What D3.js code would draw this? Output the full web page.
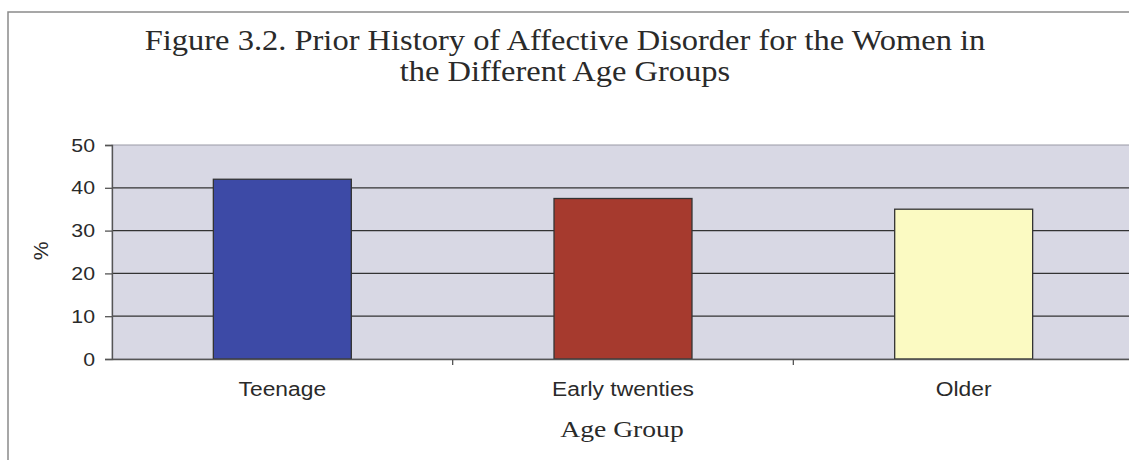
<!DOCTYPE html>
<html><head><meta charset="utf-8">
<script src="https://cdn.jsdelivr.net/npm/d3@7"></script>
<style>body{margin:0;background:#fff;}svg{display:block;}</style>
</head><body>
<script>
const categories = ["Teenage", "Early twenties", "Older"];
const values = [42, 37.5, 35];
const barColors = ["#3d4aa6", "#a63a2e", "#fbfac2"];
const yTicks = [0, 10, 20, 30, 40, 50];
const titleLines = ["Figure 3.2. Prior History of Affective Disorder for the Women in", "the Different Age Groups"];
const xTitle = "Age Group";
const yTitle = "%";

(function () {
const W = 1129, H = 460;
const svg = d3.select("body").append("svg").attr("width", W).attr("height", H);
const sans = "Liberation Sans, Arial, sans-serif";
const serif = "Liberation Serif, Times New Roman, serif";
function stretch(sel, sx) {
  sel.each(function () {
    const len = this.getComputedTextLength();
    d3.select(this).attr("textLength", len * sx).attr("lengthAdjust", "spacingAndGlyphs");
  });
}

svg.append("rect").attr("x", 8).attr("y", 12).attr("width", W + 20).attr("height", H + 20)
  .attr("fill", "#fff").attr("stroke", "#8a8a8a").attr("stroke-width", 1.5);

const pl = 112, pr = 1134, pt = 145, pb = 359;
const x = d3.scaleBand().domain(categories).range([pl, pr]).padding(0);
const y = d3.scaleLinear().domain([0, 50]).range([pb, pt]);

svg.append("rect").attr("x", pl).attr("y", pt).attr("width", pr - pl).attr("height", pb - pt)
  .attr("fill", "#d8d8e4").attr("stroke", "#9a9aa6").attr("stroke-width", 1);

svg.append("g").selectAll("line").data(yTicks.filter(d => d > 0 && d < 50)).join("line")
  .attr("x1", pl).attr("x2", pr).attr("y1", d => y(d)).attr("y2", d => y(d))
  .attr("stroke", "#333").attr("stroke-width", 1.3);

const bw = x.bandwidth() * 0.405;
svg.append("g").selectAll("rect").data(categories).join("rect")
  .attr("x", (d) => x(d) + (x.bandwidth() - bw) / 2)
  .attr("y", (d, i) => y(values[i]))
  .attr("width", bw)
  .attr("height", (d, i) => y(0) - y(values[i]))
  .attr("fill", (d, i) => barColors[i])
  .attr("stroke", "#333").attr("stroke-width", 1.3);

const yAxis = d3.axisLeft(y).tickValues(yTicks).tickSize(7).tickPadding(10);
const gy = svg.append("g").attr("transform", `translate(${pl},0)`).call(yAxis);
gy.select(".domain").attr("stroke", "#555").attr("stroke-width", 1.3);
gy.selectAll(".tick line").attr("stroke", "#555").attr("stroke-width", 1.3);
gy.selectAll("text").attr("font-family", sans).attr("font-size", 19).attr("fill", "#2a2a2a");
stretch(gy.selectAll("text"), 1.12);

const xAxis = d3.axisBottom(x).tickSize(0).tickPadding(23);
const gx = svg.append("g").attr("transform", `translate(0,${pb})`).call(xAxis);
gx.select(".domain").attr("stroke", "#555").attr("stroke-width", 1.3);
gx.selectAll("text").attr("font-family", sans).attr("font-size", 20).attr("fill", "#2a2a2a");
stretch(gx.selectAll("text"), 1.14);
svg.append("g").selectAll("line").data(categories.slice(1)).join("line")
  .attr("x1", d => x(d)).attr("x2", d => x(d)).attr("y1", pb).attr("y2", pb + 6)
  .attr("stroke", "#555").attr("stroke-width", 1.3);

const tt = svg.append("g").selectAll("text").data(titleLines).join("text")
  .attr("x", 565).attr("y", (d, i) => 50 + i * 31)
  .attr("text-anchor", "middle")
  .attr("font-family", serif).attr("font-size", 29).attr("fill", "#2a2a2a")
  .text(d => d);
stretch(tt, 1.12);

const xt = svg.append("text").attr("x", 622).attr("y", 437).attr("text-anchor", "middle")
  .attr("font-family", serif).attr("font-size", 23).attr("fill", "#2a2a2a")
  .text(xTitle);
stretch(xt, 1.2);

svg.append("text").attr("transform", "translate(48,251) rotate(-90)").attr("text-anchor", "middle")
  .attr("font-family", sans).attr("font-size", 21).attr("fill", "#2a2a2a")
  .text(yTitle);
})();
</script>
</body></html>
